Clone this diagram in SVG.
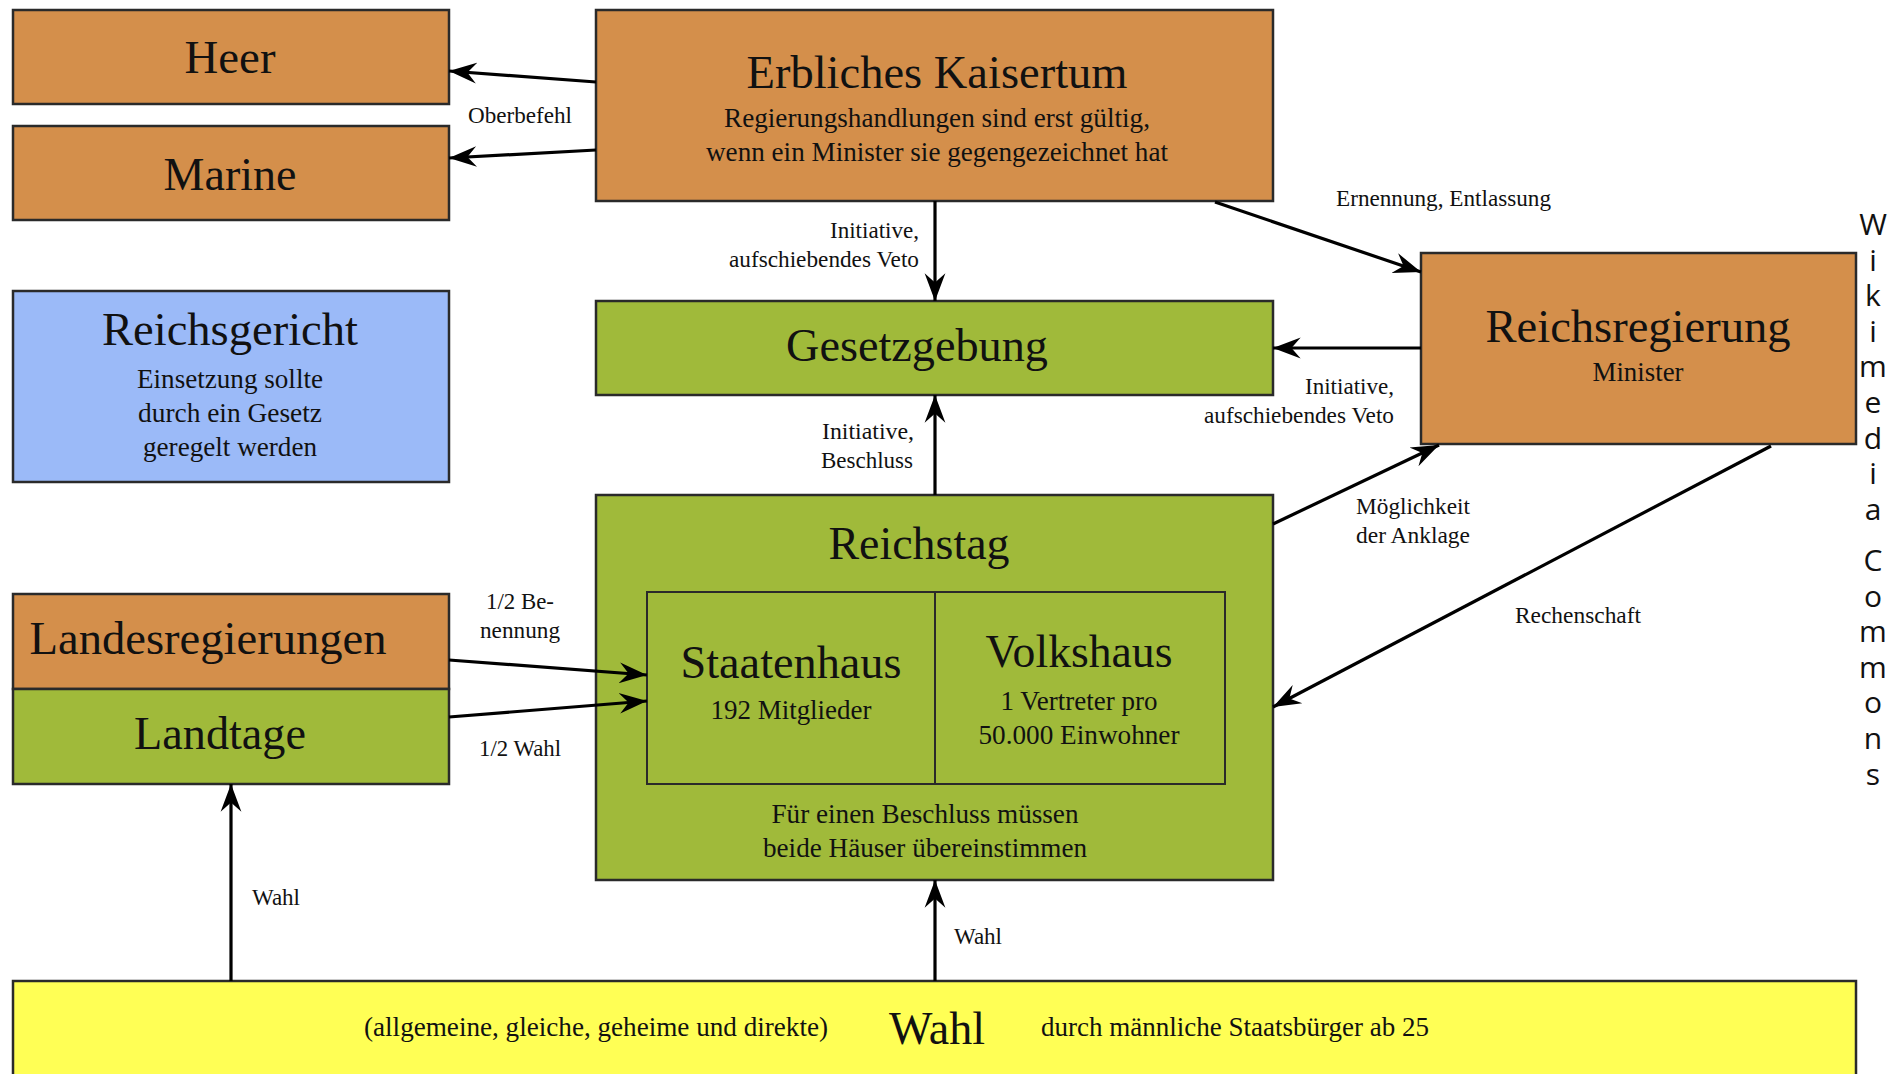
<svg xmlns="http://www.w3.org/2000/svg" width="1896" height="1074" viewBox="0 0 1896 1074">
<style>
.box{stroke:#2a2a2a;stroke-width:2.5}
.or{fill:#d48f4b}
.gr{fill:#a0ba3a}
.bl{fill:#9bbaf8}
.ye{fill:#ffff55}
text{font-family:"Liberation Serif","Times New Roman",serif;fill:#111}
.t{font-size:47px;text-anchor:middle}
.s{font-size:27px;text-anchor:middle}
.l{font-size:23px}
.c{text-anchor:middle}
.e{text-anchor:end}
.wm{font-family:"Open Sans","DejaVu Sans",sans-serif;font-size:30px;fill:#111;writing-mode:vertical-rl;text-orientation:upright;letter-spacing:-5.4px}
.ln{stroke:#000;stroke-width:3.2;fill:none;marker-end:url(#ah)}
</style>
<defs>
<marker id="ah" markerUnits="userSpaceOnUse" markerWidth="30" markerHeight="24" viewBox="-24 -10 26 20" refX="0" refY="0" orient="auto">
<path d="M0,0 L-24,-9 L-16,0 L-24,9 z" fill="#000"/>
</marker>
</defs>
<rect width="1896" height="1074" fill="#fff"/>

<g id="heer"><rect class="box or" x="13" y="10" width="436" height="94"/><text class="t" x="230" y="73" textLength="91" lengthAdjust="spacingAndGlyphs">Heer</text></g>
<g id="marine"><rect class="box or" x="13" y="126" width="436" height="94"/><text class="t" x="230" y="190" textLength="133" lengthAdjust="spacingAndGlyphs">Marine</text></g>
<g id="kaisertum"><rect class="box or" x="596" y="10" width="677" height="191"/>
<text class="t" x="937" y="88" font-size="49" textLength="381" lengthAdjust="spacingAndGlyphs">Erbliches Kaisertum</text>
<text class="s" x="937" y="127" textLength="426" lengthAdjust="spacingAndGlyphs">Regierungshandlungen sind erst gültig,</text>
<text class="s" x="937" y="161" textLength="462" lengthAdjust="spacingAndGlyphs">wenn ein Minister sie gegengezeichnet hat</text></g>
<g id="reichsgericht"><rect class="box bl" x="13" y="291" width="436" height="191"/>
<text class="t" x="230" y="345" textLength="256" lengthAdjust="spacingAndGlyphs">Reichsgericht</text>
<text class="s" x="230" y="388" textLength="186" lengthAdjust="spacingAndGlyphs">Einsetzung sollte</text>
<text class="s" x="230" y="422" textLength="184" lengthAdjust="spacingAndGlyphs">durch ein Gesetz</text>
<text class="s" x="230" y="456" textLength="174" lengthAdjust="spacingAndGlyphs">geregelt werden</text></g>
<g id="gesetzgebung"><rect class="box gr" x="596" y="301" width="677" height="94"/><text class="t" x="917" y="361" textLength="262" lengthAdjust="spacingAndGlyphs">Gesetzgebung</text></g>
<g id="reichsregierung"><rect class="box or" x="1421" y="253" width="435" height="191"/>
<text class="t" x="1638" y="342" textLength="305" lengthAdjust="spacingAndGlyphs">Reichsregierung</text>
<text class="s" x="1638" y="381" textLength="91" lengthAdjust="spacingAndGlyphs">Minister</text></g>
<g id="reichstag"><rect class="box gr" x="596" y="495" width="677" height="385"/>
<text class="t" x="919" y="559" textLength="181" lengthAdjust="spacingAndGlyphs">Reichstag</text>
<rect x="647" y="592" width="578" height="192" fill="none" stroke="#2a2a2a" stroke-width="2"/>
<line x1="935" y1="592" x2="935" y2="784" stroke="#2a2a2a" stroke-width="2"/>
<text class="t" x="791" y="678" textLength="221" lengthAdjust="spacingAndGlyphs">Staatenhaus</text>
<text class="s" x="791" y="719" textLength="161" lengthAdjust="spacingAndGlyphs">192 Mitglieder</text>
<text class="t" x="1079" y="667" textLength="187" lengthAdjust="spacingAndGlyphs">Volkshaus</text>
<text class="s" x="1079" y="710" textLength="157" lengthAdjust="spacingAndGlyphs">1 Vertreter pro</text>
<text class="s" x="1079" y="744" textLength="201" lengthAdjust="spacingAndGlyphs">50.000 Einwohner</text>
<text class="s" x="925" y="823" textLength="307" lengthAdjust="spacingAndGlyphs">Für einen Beschluss müssen</text>
<text class="s" x="925" y="857" textLength="324" lengthAdjust="spacingAndGlyphs">beide Häuser übereinstimmen</text></g>
<g id="landesregierungen"><rect class="box or" x="13" y="594" width="436" height="95"/><text class="t" x="208" y="654" textLength="357" lengthAdjust="spacingAndGlyphs">Landesregierungen</text></g>
<g id="landtage"><rect class="box gr" x="13" y="689" width="436" height="95"/><text class="t" x="220" y="749" textLength="172" lengthAdjust="spacingAndGlyphs">Landtage</text></g>
<g id="wahl"><rect class="box ye" x="13" y="981" width="1843" height="110"/>
<text class="s" x="596" y="1036" textLength="464" lengthAdjust="spacingAndGlyphs">(allgemeine, gleiche, geheime und direkte)</text>
<text class="t" x="937" y="1044" font-size="50" textLength="96" lengthAdjust="spacingAndGlyphs">Wahl</text>
<text class="s" x="1235" y="1036" textLength="388" lengthAdjust="spacingAndGlyphs">durch männliche Staatsbürger ab 25</text></g>

<g id="connectors">
<line class="ln" x1="596" y1="82" x2="449" y2="71"/>
<line class="ln" x1="596" y1="150" x2="449" y2="158"/>
<line class="ln" x1="935" y1="201" x2="935" y2="301"/>
<line class="ln" x1="1215" y1="202" x2="1421" y2="272"/>
<line class="ln" x1="1421" y1="348" x2="1273" y2="348"/>
<line class="ln" x1="935" y1="495" x2="935" y2="395"/>
<line class="ln" x1="1273" y1="524" x2="1439" y2="445"/>
<line class="ln" x1="1771" y1="446" x2="1273" y2="707"/>
<line class="ln" x1="449" y1="660" x2="647" y2="675"/>
<line class="ln" x1="449" y1="717" x2="647" y2="701"/>
<line class="ln" x1="231" y1="981" x2="231" y2="784"/>
<line class="ln" x1="935" y1="981" x2="935" y2="880"/>
<text class="l c" x="520" y="123" textLength="104" lengthAdjust="spacingAndGlyphs">Oberbefehl</text>
<text class="l" x="1336" y="206" textLength="215" lengthAdjust="spacingAndGlyphs">Ernennung, Entlassung</text>
<text class="l e" x="919" y="238" textLength="89" lengthAdjust="spacingAndGlyphs">Initiative,</text>
<text class="l e" x="919" y="267" textLength="190" lengthAdjust="spacingAndGlyphs">aufschiebendes Veto</text>
<text class="l e" x="1394" y="394" textLength="89" lengthAdjust="spacingAndGlyphs">Initiative,</text>
<text class="l e" x="1394" y="423" textLength="190" lengthAdjust="spacingAndGlyphs">aufschiebendes Veto</text>
<text class="l c" x="868" y="439" textLength="92" lengthAdjust="spacingAndGlyphs">Initiative,</text>
<text class="l c" x="867" y="468" textLength="92" lengthAdjust="spacingAndGlyphs">Beschluss</text>
<text class="l" x="1356" y="514" textLength="114" lengthAdjust="spacingAndGlyphs">Möglichkeit</text>
<text class="l" x="1356" y="543" textLength="114" lengthAdjust="spacingAndGlyphs">der Anklage</text>
<text class="l c" x="1578" y="623" textLength="126" lengthAdjust="spacingAndGlyphs">Rechenschaft</text>
<text class="l c" x="520" y="609" textLength="68" lengthAdjust="spacingAndGlyphs">1/2 Be-</text>
<text class="l c" x="520" y="638" textLength="80" lengthAdjust="spacingAndGlyphs">nennung</text>
<text class="l c" x="520" y="756" textLength="82" lengthAdjust="spacingAndGlyphs">1/2 Wahl</text>
<text class="l" x="252" y="905" textLength="48" lengthAdjust="spacingAndGlyphs">Wahl</text>
<text class="l" x="954" y="944" textLength="48" lengthAdjust="spacingAndGlyphs">Wahl</text>
</g>

<g id="watermark">
<text class="wm" x="1873" y="203">Wikimedia</text>
<text class="wm" x="1873" y="539">Commons</text>
</g>
</svg>
